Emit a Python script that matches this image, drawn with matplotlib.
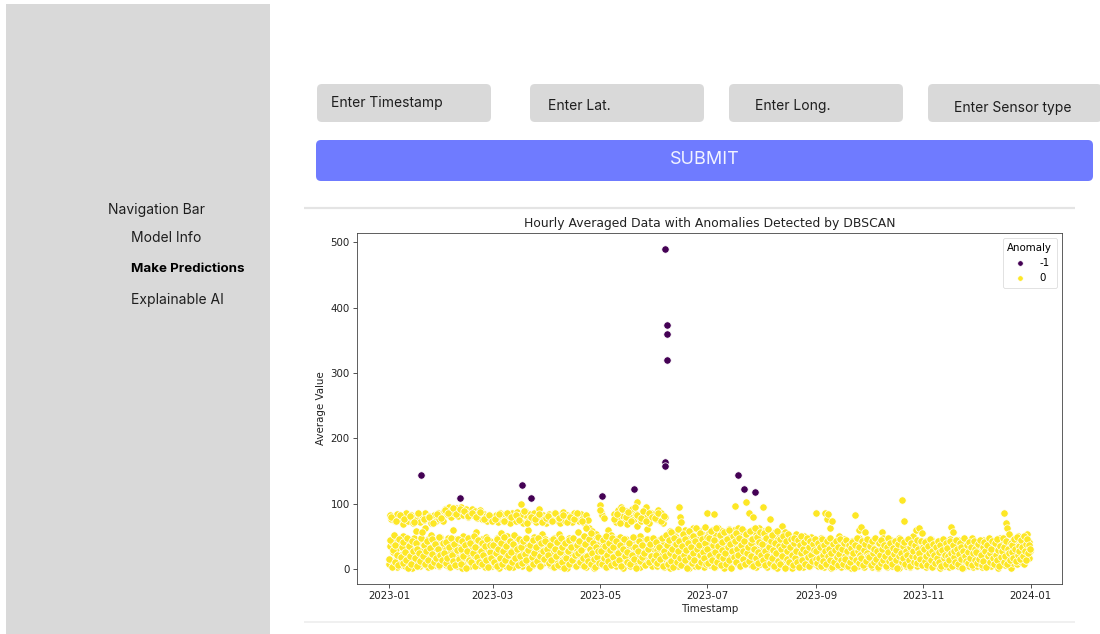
import numpy as np
import pandas as pd
import matplotlib
matplotlib.use('Agg')
import matplotlib.pyplot as plt
import matplotlib.dates as mdates
from matplotlib.patches import FancyBboxPatch, Rectangle

#-------------------------------------------------------------------------------
# hourly averaged values
# set a: 3 samples per day, one list per month
jan_vals = [8, 82, 35, 14, 77, 41, 5, 26, 80, 47, 12, 73, 30, 3, 84, 19, 44, 76, 9, 38,
            81, 22, 6, 69, 50, 15, 78, 33, 4, 85, 27, 11, 74, 43, 18, 79, 7, 36, 83, 24,
            2, 71, 48, 13, 80, 31, 58, 76, 10, 40, 84, 21, 5, 72, 46, 16, 82, 29, 8, 75,
            37, 62, 86, 12, 25, 78, 45, 3, 81, 34, 17, 70, 52, 9, 79, 28, 42, 83, 6, 20,
            74, 39, 14, 85, 32, 4, 77, 49, 23, 80, 11, 35, 73]
feb_vals = [88, 12, 40, 92, 6, 31, 84, 19, 47, 95, 3, 27, 79, 38, 14, 90, 60, 8, 86, 33,
            22, 93, 45, 5, 81, 17, 36, 89, 10, 43, 94, 26, 2, 83, 51, 15, 87, 30, 7, 91,
            39, 21, 80, 12, 48, 85, 4, 28, 92, 35, 18, 82, 9, 44, 88, 24, 57, 78, 13, 41,
            86, 6, 32, 90, 20, 46, 76, 11, 37, 84, 3, 25, 81, 49, 16, 74, 30, 8, 83, 42,
            19, 77, 34, 5]
mar_vals = [80, 14, 38, 75, 6, 29, 83, 47, 11, 72, 33, 2, 86, 21, 55, 78, 9, 41, 74, 25,
            16, 84, 36, 4, 77, 50, 13, 81, 27, 7, 70, 44, 19, 85, 31, 3, 79, 39, 12, 73,
            23, 48, 87, 8, 34, 76, 15, 42, 82, 100, 5, 28, 71, 37, 18, 88, 46, 10, 79, 24,
            59, 74, 2, 32, 84, 14, 40, 77, 21, 6, 86, 49, 26, 72, 11, 35, 80, 17, 43, 91,
            4, 30, 75, 20, 53, 83, 9, 38, 78, 13, 45, 70, 27]
apr_vals = [77, 12, 35, 84, 6, 42, 73, 19, 28, 80, 3, 47, 86, 15, 31, 75, 9, 39, 82, 22,
            53, 71, 5, 26, 79, 44, 13, 87, 33, 8, 74, 18, 40, 83, 2, 29, 76, 48, 11, 81,
            36, 24, 72, 7, 45, 85, 16, 32, 78, 4, 38, 80, 21, 57, 73, 10, 43, 84, 27, 6,
            77, 34, 14, 70, 49, 20, 82, 3, 37, 75, 12, 46, 63, 25, 8, 41, 58, 17, 30, 2,
            50, 22, 11, 44, 54, 28, 6, 39, 16, 48]
may_vals = [98, 14, 87, 33, 83, 6, 41, 78, 21, 9, 47, 28, 3, 59, 36, 17, 44, 11, 25, 52,
            7, 38, 19, 30, 84, 12, 45, 72, 4, 27, 90, 35, 16, 78, 49, 8, 95, 23, 40, 81,
            2, 31, 74, 14, 88, 46, 10, 69, 26, 86, 37, 5, 79, 20, 42, 92, 13, 33, 76, 48,
            7, 84, 29, 66, 102, 18, 39, 80, 3, 50, 73, 24, 11, 88, 43, 16, 77, 34, 94, 8,
            61, 82, 27, 45, 70, 15, 36, 86, 5, 41, 79, 22, 31]
jun_vals = [84, 12, 37, 77, 5, 29, 90, 44, 18, 73, 8, 33, 86, 21, 48, 71, 3, 40, 80, 26,
            14, 52, 35, 9, 46, 24, 58, 2, 31, 17, 42, 11, 27, 55, 6, 38, 20, 49, 15, 33,
            4, 44, 94, 25, 80, 12, 72, 37, 8, 51, 29, 18, 60, 41, 6, 23, 35, 13, 47, 2,
            30, 56, 19, 9, 43, 26, 62, 14, 38, 5, 50, 22, 33, 11, 45, 17, 28, 58, 7, 40,
            24, 53, 15, 34, 3, 47, 21, 64, 10, 36]
jul_vals = [85, 14, 38, 55, 6, 27, 47, 19, 60, 9, 33, 84, 22, 44, 3, 52, 29, 12, 40, 63,
            17, 35, 7, 49, 25, 58, 11, 31, 45, 2, 38, 21, 56, 14, 28, 43, 8, 61, 34, 18,
            50, 5, 26, 41, 13, 59, 30, 20, 97, 37, 9, 47, 24, 62, 15, 33, 4, 44, 28, 53,
            11, 36, 19, 48, 7, 57, 102, 23, 39, 12, 51, 86, 30, 16, 45, 6, 27, 60, 35, 79,
            10, 42, 21, 54, 3, 32, 46, 17, 63, 26, 8, 39, 55]
aug_vals = [42, 12, 95, 30, 58, 7, 36, 21, 49, 3, 27, 61, 15, 44, 76, 9, 33, 52, 18, 40,
            5, 25, 56, 11, 38, 22, 47, 2, 31, 14, 54, 29, 8, 43, 19, 65, 35, 6, 24, 48,
            57, 13, 37, 4, 28, 45, 16, 51, 10, 33, 21, 41, 2, 26, 47, 12, 36, 7, 53, 19,
            30, 44, 5, 23, 39, 14, 48, 9, 34, 27, 3, 42, 17, 50, 11, 31, 24, 6, 38, 45,
            15, 28, 4, 36, 20, 49, 9, 32, 13, 43, 25, 7, 39]
sep_vals = [86, 12, 30, 41, 5, 22, 38, 15, 47, 8, 27, 33, 18, 3, 44, 85, 11, 25, 76, 6,
            19, 84, 13, 36, 62, 2, 28, 73, 9, 39, 21, 14, 31, 4, 42, 17, 26, 7, 35, 50,
            12, 23, 3, 38, 16, 29, 8, 45, 20, 11, 33, 5, 27, 40, 14, 24, 9, 36, 18, 2,
            30, 43, 13, 22, 6, 34, 16, 82, 26, 10, 39, 4, 21, 59, 48, 15, 31, 64, 7, 25,
            12, 37, 3, 19, 57, 28, 44, 9, 23, 35]
oct_vals = [25, 8, 36, 33, 14, 41, 3, 28, 19, 37, 6, 45, 22, 11, 30, 2, 39, 16, 26, 9,
            43, 20, 57, 34, 13, 48, 24, 7, 31, 17, 40, 3, 27, 12, 36, 21, 9, 44, 15, 29,
            4, 38, 18, 25, 10, 33, 6, 42, 19, 28, 13, 47, 2, 35, 22, 8, 105, 30, 16, 41,
            73, 11, 26, 5, 37, 20, 14, 32, 7, 45, 24, 3, 29, 17, 39, 10, 50, 23, 6, 34,
            15, 59, 27, 4, 42, 63, 12, 31, 19, 8, 38, 55, 13]
nov_vals = [21, 8, 35, 14, 42, 3, 27, 18, 31, 6, 39, 12, 24, 45, 9, 29, 16, 37, 4, 22,
            33, 11, 40, 19, 7, 28, 15, 36, 2, 25, 43, 13, 30, 8, 20, 38, 5, 26, 17, 34,
            10, 41, 23, 3, 31, 14, 46, 64, 21, 9, 36, 56, 18, 27, 6, 39, 12, 24, 33, 4,
            44, 16, 29, 8, 20, 37, 11, 26, 2, 35, 15, 42, 22, 7, 31, 13, 28, 40, 5, 19,
            34, 10, 25, 47, 17, 3, 30, 14, 38, 21]
dec_vals = [18, 5, 33, 12, 40, 24, 8, 29, 15, 37, 3, 22, 44, 10, 27, 19, 35, 6, 31, 14,
            41, 23, 9, 26, 17, 38, 4, 30, 13, 43, 21, 7, 34, 16, 25, 46, 11, 28, 2, 36,
            19, 48, 8, 24, 32, 14, 39, 85, 20, 6, 30, 71, 17, 62, 27, 11, 54, 36, 22, 2,
            41, 15, 29, 9, 45, 24, 33, 13, 38, 19, 7, 28, 50, 16, 35, 25, 42, 11, 31, 21,
            47, 8, 37, 18, 26, 44, 14, 53, 23, 32, 41, 17, 28]

# set b: 2 more samples per day
jan_b = [15, 44, 79, 3, 29, 52, 11, 37, 74, 22, 6, 46, 83, 18, 33, 9, 41, 76, 26, 13,
         48, 2, 35, 81, 20, 7, 43, 28, 72, 16, 39, 5, 31, 85, 24, 12, 47, 57, 19, 36,
         77, 8, 27, 42, 14, 80, 32, 4, 45, 23, 71, 10, 38, 17, 84, 30, 6, 49, 21, 78, 13, 40]
feb_b = [25, 90, 9, 41, 17, 86, 34, 3, 48, 22, 93, 12, 38, 6, 84, 29, 45, 15, 91, 31,
         8, 43, 20, 88, 36, 2, 27, 47, 81, 14, 39, 10, 85, 24, 50, 5, 33, 79, 18, 44,
         11, 87, 28, 7, 40, 21, 76, 35, 13, 46, 3, 82, 26, 37, 16, 74]
mar_b = [36, 10, 77, 24, 45, 4, 31, 84, 17, 40, 7, 28, 73, 49, 13, 35, 86, 21, 3, 43,
         79, 26, 11, 38, 52, 16, 82, 30, 6, 46, 75, 19, 33, 9, 42, 88, 23, 14, 48, 71,
         29, 2, 37, 80, 18, 44, 8, 25, 76, 34, 12, 47, 84, 20, 5, 39, 72, 27, 15, 43, 78, 31]
apr_b = [22, 81, 9, 37, 14, 74, 45, 3, 30, 86, 19, 41, 6, 78, 26, 48, 11, 34, 83, 2,
         39, 17, 72, 28, 44, 8, 80, 33, 13, 47, 76, 21, 5, 36, 85, 24, 42, 10, 29, 73,
         16, 50, 4, 38, 62, 20, 12, 46, 31, 7, 55, 25, 40, 15, 3, 34, 18, 49, 27, 9]
may_b = [90, 27, 8, 44, 16, 35, 3, 51, 22, 12, 40, 29, 6, 47, 18, 33, 76, 9, 42, 84,
         24, 14, 71, 37, 4, 92, 31, 46, 19, 80, 11, 26, 87, 39, 7, 74, 21, 49, 15, 95,
         34, 2, 83, 28, 43, 12, 78, 36, 18, 89, 24, 6, 73, 45, 30, 85, 10, 38, 20, 79, 47, 14]
jun_b = [78, 22, 41, 9, 86, 33, 15, 74, 47, 4, 28, 81, 19, 52, 37, 7, 44, 25, 12, 56,
         31, 3, 48, 20, 38, 10, 61, 27, 43, 16, 6, 35, 53, 22, 13, 46, 29, 2, 40, 58,
         18, 33, 9, 50, 24, 14, 42, 63, 30, 5, 37, 21, 55, 11, 45, 26, 17, 39, 8, 49]
jul_b = [31, 9, 48, 22, 58, 14, 37, 3, 44, 26, 62, 11, 35, 19, 52, 6, 29, 41, 16, 57,
         24, 8, 46, 33, 13, 60, 38, 2, 27, 50, 18, 43, 10, 55, 31, 21, 47, 5, 36, 61,
         15, 28, 42, 8, 53, 24, 34, 12, 58, 39, 20, 45, 4, 30, 63, 17, 49, 26, 9, 41, 56, 22]
aug_b = [38, 14, 55, 27, 6, 47, 20, 61, 33, 9, 43, 17, 52, 29, 4, 40, 24, 58, 12, 35,
         46, 7, 30, 19, 50, 37, 2, 42, 15, 27, 54, 10, 33, 45, 21, 6, 39, 48, 16, 28,
         11, 44, 3, 36, 24, 51, 13, 31, 41, 8, 26, 47, 18, 34, 5, 43, 22, 12, 38, 29, 46, 15]
sep_b = [27, 9, 40, 17, 33, 4, 45, 22, 12, 36, 28, 7, 43, 19, 31, 14, 48, 25, 3, 38,
         11, 29, 42, 18, 6, 34, 23, 46, 13, 30, 8, 39, 20, 15, 44, 27, 5, 36, 10, 32,
         41, 18, 24, 2, 37, 13, 47, 28, 9, 33, 21, 16, 43, 6, 29, 38, 12, 25, 45, 19]
oct_b = [18, 35, 6, 42, 24, 11, 31, 47, 15, 27, 3, 39, 21, 9, 44, 30, 13, 37, 20, 5,
         34, 26, 48, 12, 40, 17, 8, 32, 23, 43, 14, 29, 2, 38, 19, 46, 25, 10, 35, 16,
         41, 7, 28, 22, 45, 13, 33, 4, 39, 20, 27, 11, 36, 18, 44, 9, 30, 24, 15, 42, 6, 33]
nov_b = [30, 12, 41, 19, 6, 35, 24, 45, 14, 28, 3, 38, 21, 9, 33, 17, 43, 26, 11, 37,
         5, 29, 46, 16, 22, 40, 8, 32, 19, 13, 42, 25, 4, 36, 18, 27, 10, 44, 31, 7,
         23, 39, 15, 34, 2, 28, 47, 20, 12, 37, 26, 9, 41, 17, 33, 6, 24, 43, 14, 30]
dec_b = [26, 9, 38, 15, 44, 21, 6, 33, 12, 41, 28, 3, 36, 19, 47, 24, 10, 31, 42, 16,
         7, 39, 22, 13, 45, 29, 5, 35, 18, 27, 48, 11, 34, 20, 43, 8, 30, 24, 14, 40,
         26, 37, 17, 46, 31, 12, 49, 22, 35, 28, 15, 44, 33, 19, 51, 27, 38, 13, 46, 24, 36, 30]

# points flagged by DBSCAN (label -1)
anom_times = ['2023-01-19 10:00', '2023-02-10 05:00', '2023-03-17 14:00', '2023-03-22 17:00',
              '2023-05-02 10:00', '2023-05-20 14:00', '2023-06-06 20:00', '2023-06-06 21:00',
              '2023-06-06 22:00', '2023-06-08 08:00', '2023-06-08 09:00', '2023-06-08 10:00',
              '2023-07-18 12:00', '2023-07-22 03:00', '2023-07-28 00:00']
anom_vals = [144, 108, 129, 108, 112, 123, 163, 157, 490, 373, 359, 320, 144, 123, 117]

anomaly_labels = ['-1', '0']
anomaly_colors = ['#440154', '#fde725']

input_labels = ['Enter Timestamp', 'Enter Lat.', 'Enter Long.', 'Enter Sensor type']
nav_items = ['Model Info', 'Make Predictions', 'Explainable AI']
#-------------------------------------------------------------------------------

set_a = [jan_vals, feb_vals, mar_vals, apr_vals, may_vals, jun_vals,
         jul_vals, aug_vals, sep_vals, oct_vals, nov_vals, dec_vals]
set_b = [jan_b, feb_b, mar_b, apr_b, may_b, jun_b, jul_b, aug_b, sep_b, oct_b, nov_b, dec_b]
ts, vals = [], []
for months, shift in [(set_a, 0), (set_b, 4)]:
    for m, v in enumerate(months):
        start = pd.Timestamp(2023, m + 1, 1) + pd.Timedelta(hours=shift)
        end = pd.Timestamp(2023, m + 1, 1) + pd.offsets.MonthBegin(1) + pd.Timedelta(hours=shift)
        ts.extend(pd.date_range(start, end, periods=len(v) + 1)[:-1])
        vals.extend(v)
df = pd.DataFrame({'Timestamp': pd.to_datetime(ts), 'Average Value': vals})
anom = pd.DataFrame({'Timestamp': pd.to_datetime(anom_times), 'Average Value': anom_vals})

W, H = 1100, 634
fig = plt.figure(figsize=(W / 100, H / 100), dpi=100)
fig.patch.set_facecolor('white')

# page mock-up drawn in pixel coordinates
ui = fig.add_axes([0, 0, 1, 1])
ui.set_xlim(0, W)
ui.set_ylim(H, 0)
ui.axis('off')

ui.add_patch(Rectangle((6, 4), 264, 640, color='#d9d9d9', lw=0))
ui.text(108, 210, 'Navigation Bar', family='Inter', fontsize=10, color='#1e1e1e', va='center')
for i, item in enumerate(nav_items):
    bold = item == 'Make Predictions'
    ui.text(131, 238 + i * 31, item, family='Inter', fontsize=9.6 if bold else 10,
            fontweight='bold' if bold else 'normal', color='black' if bold else '#1e1e1e',
            va='center')

box_x = [317, 530, 729, 928]
text_dx = [14, 18, 26, 26]
text_y = [103, 106, 106, 108]
for bx, dx, ty, lab in zip(box_x, text_dx, text_y, input_labels):
    ui.add_patch(FancyBboxPatch((bx, 84), 174, 38, boxstyle='round,pad=0,rounding_size=5',
                                fc='#d9d9d9', ec='none'))
    ui.text(bx + dx, ty, lab, family='Inter', fontsize=10, color='#1e1e1e', va='center')

ui.add_patch(FancyBboxPatch((316, 140), 777, 41, boxstyle='round,pad=0,rounding_size=5',
                            fc='#6f7bff', ec='none'))
ui.text(705, 160, 'SUBMIT', family='Inter', fontsize=13, color='#f2f3ff', ha='center', va='center')

ui.plot([304, 1075], [207.5, 207.5], color='#e4e4e4', lw=1.6, solid_capstyle='butt')
ui.plot([304, 1075], [622, 622], color='#ededed', lw=1.2, solid_capstyle='butt')

# the chart itself
ax = fig.add_axes([357 / W, 1 - 583.5 / H, (1062 - 357) / W, (583.5 - 233) / H])
ax.scatter(anom['Timestamp'], anom['Average Value'], s=28, c=anomaly_colors[0],
           edgecolors='white', linewidths=0.5, label=anomaly_labels[0], zorder=3)
ax.scatter(df['Timestamp'], df['Average Value'], s=28, c=anomaly_colors[1],
           edgecolors='white', linewidths=0.5, label=anomaly_labels[1], zorder=2)

ax.xaxis.set_major_locator(mdates.MonthLocator(bymonth=[1, 3, 5, 7, 9, 11]))
ax.xaxis.set_major_formatter(mdates.DateFormatter('%Y-%m'))
ax.set_yticks([0, 100, 200, 300, 400, 500])
ax.tick_params(labelsize=7.4, length=2.6, width=0.6, pad=2.5, colors='#333333', labelcolor='#222222')
for sp in ax.spines.values():
    sp.set_linewidth(0.6)
    sp.set_color('#444444')

ax.set_title('Hourly Averaged Data with Anomalies Detected by DBSCAN', fontsize=8.9, pad=4.5, color='#222222')
ax.set_xlabel('Timestamp', fontsize=7.4, labelpad=2.5, color='#222222')
ax.set_ylabel('Average Value', fontsize=7.4, labelpad=3, color='#222222')
leg = ax.legend(title='Anomaly', loc='upper right', fontsize=7.4, title_fontsize=7.4,
                scatterpoints=1, markerscale=0.75, handletextpad=0.9, borderpad=0.45,
                labelspacing=0.5, framealpha=0.8)
leg.get_frame().set_linewidth(0.5)

fig.savefig('out.png', dpi=100, facecolor='white')
